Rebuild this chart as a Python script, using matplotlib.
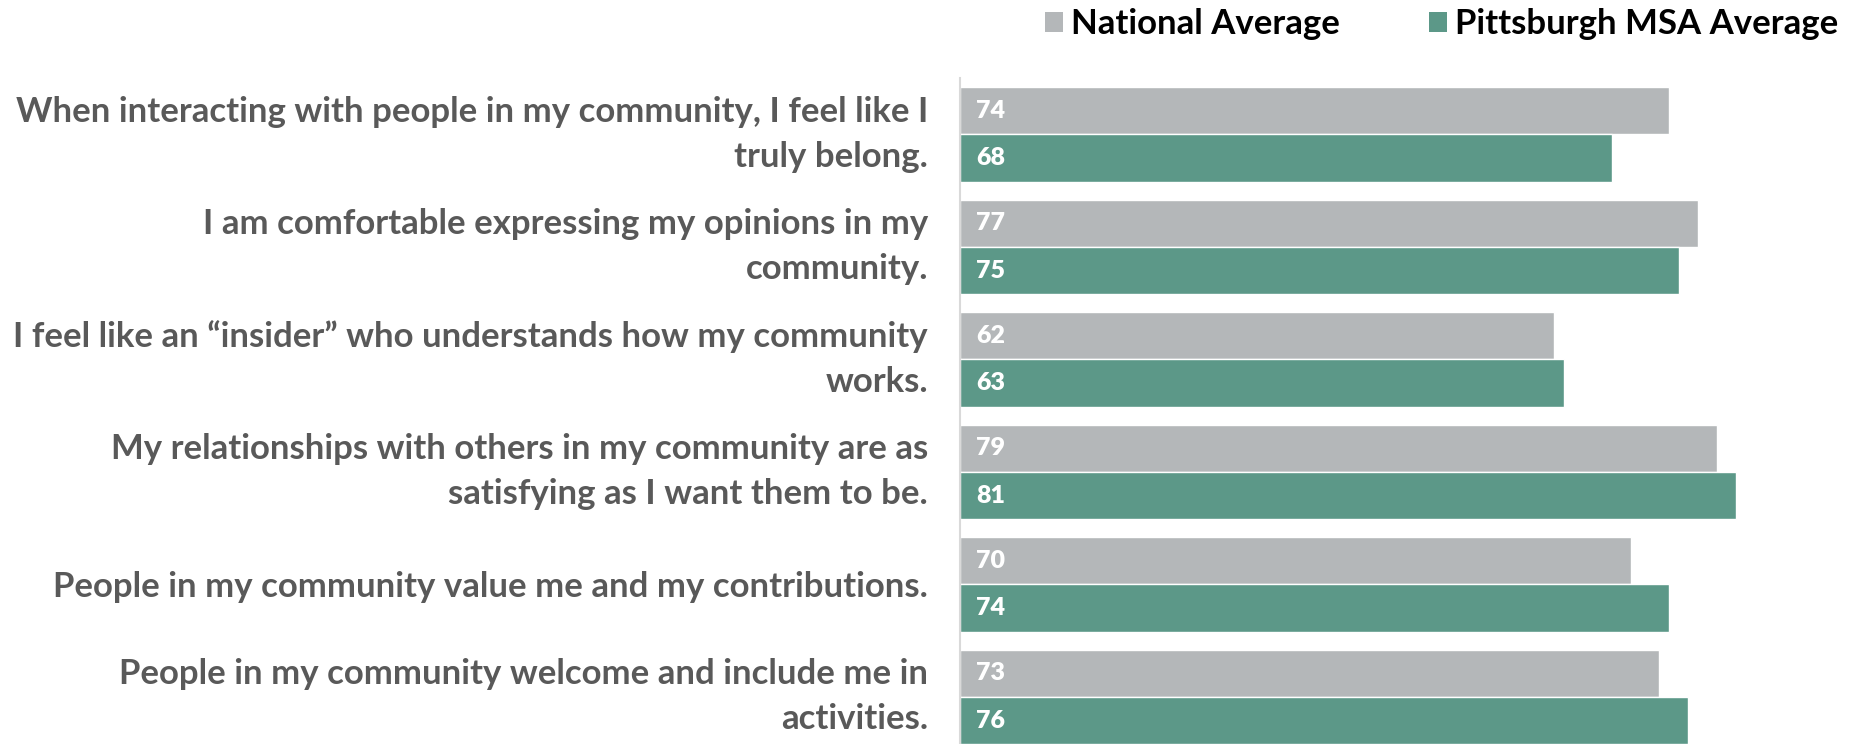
import matplotlib
matplotlib.use("Agg")
import matplotlib.pyplot as plt
from matplotlib.patches import Patch
from matplotlib.font_manager import FontProperties
import numpy as np

# Survey statements (top to bottom) and average scores
statements = [
    "When interacting with people in my community, I feel like I\ntruly belong.",
    "I am comfortable expressing my opinions in my\ncommunity.",
    "I feel like an \u201cinsider\u201d who understands how my community\nworks.",
    "My relationships with others in my community are as\nsatisfying as I want them to be.",
    "People in my community value me and my contributions.",
    "People in my community welcome and include me in\nactivities.",
]
national_avg = [74, 77, 62, 79, 70, 73]
pittsburgh_avg = [68, 75, 63, 81, 74, 76]
series_names = ["National Average", "Pittsburgh MSA Average"]

GRAY = "#b4b7b9"
GREEN = "#5c9888"
LABEL_COLOR = "#595959"
FONT = "Lato"
LABEL_SIZE = 25
LINE_STEP_PX = 39  # baseline-to-baseline distance for wrapped labels

W, H, DPI = 1852, 744, 100
fig = plt.figure(figsize=(W / DPI, H / DPI), dpi=DPI)
ax = fig.add_axes([960 / W, 0.0, 1 - 960 / W, 1 - 78 / H])

y = np.arange(len(statements))
h = 0.422
ax.barh(y - h / 2, national_avg, height=h, color=GRAY, edgecolor="white", linewidth=1)
ax.barh(y + h / 2, pittsburgh_avg, height=h, color=GREEN, edgecolor="white", linewidth=1)

# Value labels inside each bar, near the base
for yi, v in zip(y - h / 2, national_avg):
    ax.annotate(str(v), xy=(0, yi), xytext=(11.5, 0), textcoords="offset points",
                ha="left", va="center", color="white", fontsize=18,
                fontweight="heavy", family=FONT)
for yi, v in zip(y + h / 2, pittsburgh_avg):
    ax.annotate(str(v), xy=(0, yi), xytext=(11.5, 0), textcoords="offset points",
                ha="left", va="center", color="white", fontsize=18,
                fontweight="heavy", family=FONT)

ax.set_xlim(0, 93.1)
ax.set_ylim(5.418, -0.502)

# line spacing derived from the font's "lp" ascent so wrapped lines sit a fixed distance apart
renderer = fig.canvas.get_renderer()
fp = FontProperties(family=FONT, weight="bold", size=LABEL_SIZE)
_, lp_h, lp_d = renderer.get_text_width_height_descent("lp", fp, ismath=False)
linesp = LINE_STEP_PX / (lp_h - lp_d)

ax.set_yticks(y)
ax.set_yticklabels(statements, fontsize=LABEL_SIZE, fontweight="bold", color=LABEL_COLOR,
                   family=FONT, linespacing=linesp, ha="right")
for lbl in ax.get_yticklabels():
    if "\n" in lbl.get_text():
        lbl.set_verticalalignment("center")
ax.tick_params(axis="y", length=0, pad=23)
ax.set_xticks([])

for side in ["top", "right", "bottom"]:
    ax.spines[side].set_visible(False)
ax.spines["left"].set_color("#d9d9d9")
ax.spines["left"].set_linewidth(1.5)

handles = [Patch(facecolor=GRAY, edgecolor="none"), Patch(facecolor=GREEN, edgecolor="none")]
fig.legend(handles, series_names, loc="center right", bbox_to_anchor=(1838 / W, 1 - 24 / H),
           ncol=2, frameon=False, borderpad=0, borderaxespad=0,
           handlelength=0.52, handleheight=0.52, handletextpad=0.23,
           columnspacing=2.56, prop={"family": FONT, "weight": "bold", "size": 25})

fig.savefig("out.png", dpi=DPI, facecolor="white")
